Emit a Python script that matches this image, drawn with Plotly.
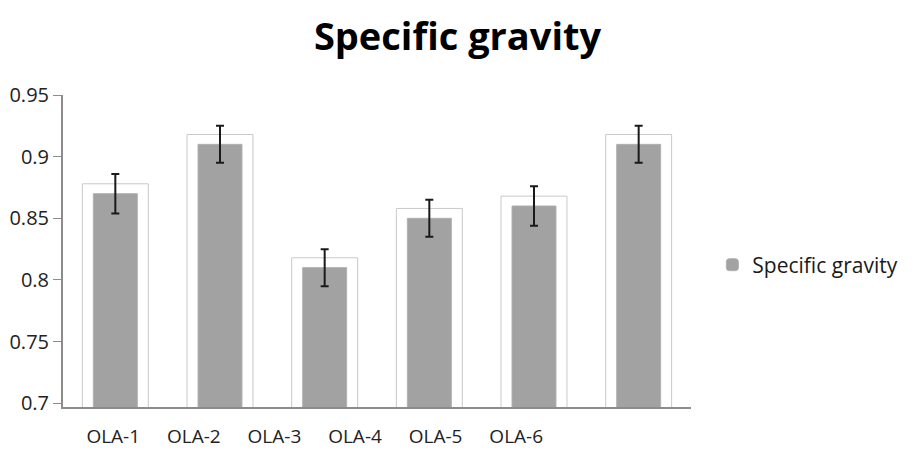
import plotly.graph_objects as go

# ---- data ----
samples = ["OLA-1", "OLA-2", "OLA-3", "OLA-4", "OLA-5", "OLA-6"]
specific_gravity = [0.870, 0.910, 0.810, 0.850, 0.860, 0.910]
error_sd = [0.016, 0.015, 0.015, 0.015, 0.016, 0.015]
y_ticks = [0.7, 0.75, 0.8, 0.85, 0.9, 0.95]
y_tick_text = ["0.7", "0.75", "0.8", "0.85", "0.9", "0.95"]

# ---- style ----
FRAME_PAD = 0.008          # outer frame sits a little above each bar
LABEL_STEP = 0.77          # category labels are compressed relative to bars
LABEL_OFFSET = -0.02
FONT = "Open Sans"

idx = list(range(len(samples)))
label_pos = [i * LABEL_STEP + LABEL_OFFSET for i in idx]

fig = go.Figure()

# outer light frame around each bar
fig.add_trace(go.Bar(
    x=idx,
    y=[v + FRAME_PAD for v in specific_gravity],
    width=0.63,
    marker=dict(color="white", line=dict(color="#c9c9c9", width=1)),
    showlegend=False,
    hoverinfo="skip",
))

# main bars
fig.add_trace(go.Bar(
    x=idx,
    y=specific_gravity,
    name="Specific gravity",
    width=0.42,
    marker=dict(color="#a2a2a2", line=dict(color="#b0b0b0", width=1), cornerradius=7),
    error_y=dict(type="data", array=error_sd, visible=True,
                 color="#1a1a1a", thickness=2, width=4),
))

# page body has an 8px default margin; size the figure to fit the window
fig.update_layout(
    width=907, height=442,
    barmode="overlay",
    paper_bgcolor="white", plot_bgcolor="white",
    margin=dict(l=55, r=212, t=87, b=43),
    title=dict(text="<b>Specific gravity</b>", x=0.4956, xanchor="center",
               y=0.935, yanchor="middle",
               font=dict(family=FONT, size=38, color="#000000")),
    font=dict(family=FONT, color="#333333"),
    showlegend=True,
    legend=dict(x=1.034, xanchor="left", y=0.455, yanchor="middle",
                font=dict(family=FONT, size=21, color="#1a1a1a"),
                bgcolor="rgba(0,0,0,0)", itemwidth=30),
    xaxis=dict(
        automargin=False,
        range=[-0.5, len(samples) - 0.5],
        tickmode="array", tickvals=label_pos, ticktext=samples,
        showgrid=False, zeroline=False,
        showline=True, linecolor="#8c8c8c", linewidth=2,
        ticks="", ticklabelstandoff=11,
        tickfont=dict(family=FONT, size=19, color="#222222"),
    ),
    yaxis=dict(
        automargin=False,
        range=[0.697, 0.95],
        tickmode="array", tickvals=y_ticks, ticktext=y_tick_text,
        showgrid=False, zeroline=False,
        showline=True, linecolor="#8c8c8c", linewidth=2,
        ticks="outside", ticklen=8, tickcolor="#8c8c8c", tickwidth=1,
        tickfont=dict(family=FONT, size=20, color="#222222"),
    ),
)

fig.write_html("out.html")
